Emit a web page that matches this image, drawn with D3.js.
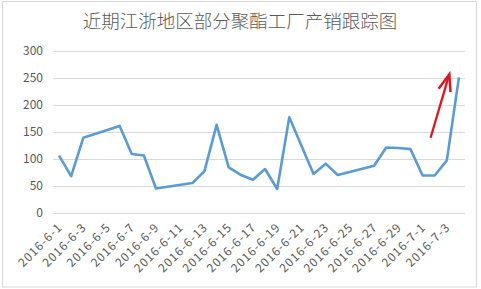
<!DOCTYPE html>
<html><head><meta charset="utf-8">
<script src="https://cdn.jsdelivr.net/npm/d3@7"></script>
<style>
html,body{margin:0;padding:0;background:#fff;}
svg{display:block;}
text{font-family:"Noto Sans CJK SC","Noto Sans",sans-serif;fill:#595959;}
</style></head>
<body><svg id="c" width="481" height="289"></svg>
<script>
const title = "近期江浙地区部分聚酯工厂产销跟踪图";
const dates = ["2016-6-1","2016-6-2","2016-6-3","2016-6-4","2016-6-5","2016-6-6","2016-6-7","2016-6-8","2016-6-9","2016-6-10","2016-6-11","2016-6-12","2016-6-13","2016-6-14","2016-6-15","2016-6-16","2016-6-17","2016-6-18","2016-6-19","2016-6-20","2016-6-21","2016-6-22","2016-6-23","2016-6-24","2016-6-25","2016-6-26","2016-6-27","2016-6-28","2016-6-29","2016-6-30","2016-7-1","2016-7-2","2016-7-3","2016-7-4"];
const values = [106,68,139,null,null,161,109,106,45,null,null,55,77,163,84,70,61,81,44,177,null,72,91,70,null,null,87,121,120,118,69,69,97,251];
const yTicks = [0,50,100,150,200,250,300];
const tickLabels = dates.filter((d,i)=>i%2===0);
const arrowFrom = {date:"2016-7-1", value:139};
const arrowTo = {date:"2016-7-3", value:257};

const svg = d3.select("#c");
svg.append("rect").attr("x",2.5).attr("y",1.5).attr("width",474).attr("height",285.5)
  .attr("fill","#fff").attr("stroke","#d9d9d9");

const L=53, R=465, T=51, B=212.7;
const x = d3.scaleBand().domain(dates).range([L,R]);
const y = d3.scaleLinear().domain([0,300]).range([B,T]);

svg.append("text").attr("x",240).attr("y",28).attr("text-anchor","middle")
  .style("font-size","18.5px").style("font-weight","300").text(title);

// grid
svg.append("g").selectAll("line").data(yTicks).join("line")
  .attr("x1",L).attr("x2",R).attr("y1",d=>Math.round(y(d))+0.5).attr("y2",d=>Math.round(y(d))+0.5)
  .attr("stroke","#d9d9d9").attr("stroke-width",1);

// y axis labels
const yAxis = d3.axisLeft(y).tickValues(yTicks).tickSize(0).tickPadding(10);
const gy = svg.append("g").attr("transform",`translate(${L},0)`).call(yAxis);
gy.select(".domain").remove();
gy.selectAll("text").style("font-size","12px").style("fill","#595959").style("font-family",'"Noto Sans CJK SC",sans-serif');

// x labels
const cx = d=>x(d)+x.bandwidth()/2;
svg.append("g").selectAll("text").data(tickLabels).join("text")
  .attr("transform",d=>`translate(${cx(d)+4},228) rotate(-45)`)
  .attr("text-anchor","end").style("font-size","12px").style("letter-spacing","1px").text(d=>d);

// line
const pts = dates.map((d,i)=>({d,v:values[i]})).filter(p=>p.v!==null);
svg.append("path").datum(pts)
  .attr("d",d3.line().x(p=>cx(p.d)).y(p=>y(p.v)))
  .attr("fill","none").attr("stroke","#5b9bd5").attr("stroke-width",2.6).attr("stroke-linejoin","round");

// red arrow
const ax1=cx(arrowFrom.date)+8, ay1=y(arrowFrom.value), ax2=cx(arrowTo.date)+2.5, ay2=y(arrowTo.value);
svg.append("line").attr("x1",ax1).attr("y1",ay1).attr("x2",ax2).attr("y2",ay2)
  .attr("stroke","#e0141e").attr("stroke-width",2.3);
const ang=Math.atan2(ay2-ay1,ax2-ax1);
const hl=18, ha=0.35;
const p1=[ax2-hl*Math.cos(ang-ha), ay2-hl*Math.sin(ang-ha)];
const p2=[ax2-hl*Math.cos(ang+ha), ay2-hl*Math.sin(ang+ha)];
svg.append("path").attr("d",`M${p1[0]},${p1[1]}L${ax2},${ay2}L${p2[0]},${p2[1]}`)
  .attr("fill","none").attr("stroke","#e0141e").attr("stroke-width",2.5).attr("stroke-linejoin","miter");
</script></body></html>
